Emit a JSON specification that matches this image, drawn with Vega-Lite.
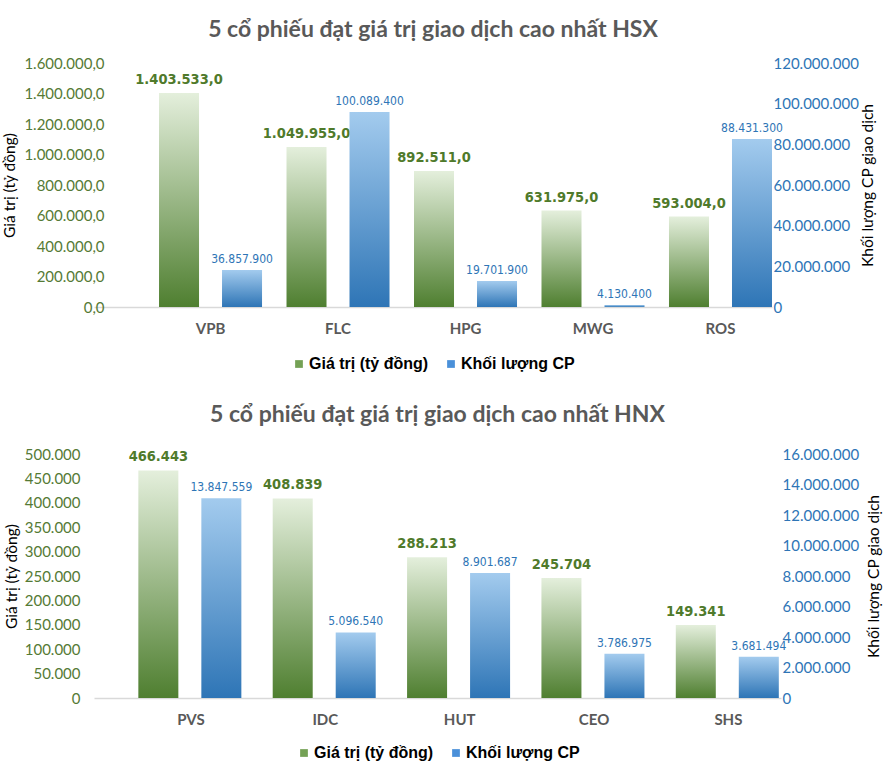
{
  "$schema": "https://vega.github.io/schema/vega-lite/v6.json",
  "padding": {"left": 2, "right": 0, "top": 19, "bottom": 0},
  "background": "white",
  "spacing": 32,
  "align": "none",
  "config": {
    "locale": {"number": {"decimal": ",", "thousands": ".", "grouping": [3], "currency": ["", ""]}},
    "view": {"stroke": null},
    "font": "Lato",
    "axis": {"grid": false, "ticks": false, "domain": false},
    "title": {"font": "Lato", "fontSize": 23, "fontWeight": "bold", "color": "#595959", "anchor": "middle", "offset": 14},
    "legend": {"layout": {"bottom": {"anchor": "middle"}}}
  },
  "resolve": {"scale": {"color": "independent"}},
  "vconcat": [
    {
      "title": "5 cổ phiếu đạt giá trị giao dịch cao nhất HSX",
      "width": 678,
      "height": 244,
      "data": {"values": [
        {"ma": "VPB", "chi_so": "gt", "gia_tri": 1403533.0},
        {"ma": "VPB", "chi_so": "kl", "gia_tri": 18200000, "nhan": "36.857.900"},
        {"ma": "FLC", "chi_so": "gt", "gia_tri": 1049955.0},
        {"ma": "FLC", "chi_so": "kl", "gia_tri": 95900000, "nhan": "100.089.400"},
        {"ma": "HPG", "chi_so": "gt", "gia_tri": 892511.0},
        {"ma": "HPG", "chi_so": "kl", "gia_tri": 12800000, "nhan": "19.701.900"},
        {"ma": "MWG", "chi_so": "gt", "gia_tri": 631975.0},
        {"ma": "MWG", "chi_so": "kl", "gia_tri": 1000000, "nhan": "4.130.400"},
        {"ma": "ROS", "chi_so": "gt", "gia_tri": 593004.0},
        {"ma": "ROS", "chi_so": "kl", "gia_tri": 82600000, "nhan": "88.431.300"}
      ]},
      "layer": [
        {
          "transform": [{"filter": "datum.chi_so === 'gt'"}],
          "encoding": {
            "x": {"field": "ma", "type": "nominal", "scale": {"domain": ["VPB", "FLC", "HPG", "MWG", "ROS"], "paddingInner": 0.192, "paddingOuter": 0.255, "align": 1},
              "axis": {"title": null, "labelAngle": 0, "labelFont": "Lato", "labelFontWeight": "bold", "labelFontSize": 15, "labelColor": "#595959", "labelPadding": 14, "domain": true, "domainColor": "#d9d9d9", "domainWidth": 1.5, "ticks": false}},
            "xOffset": {"field": "chi_so", "scale": {"domain": ["gt", "kl"], "paddingInner": 0.365, "paddingOuter": 0}},
            "y": {"field": "gia_tri", "type": "quantitative", "scale": {"domain": [0, 1600000]},
              "axis": {"orient": "left", "offset": -24, "values": [0, 200000, 400000, 600000, 800000, 1000000, 1200000, 1400000, 1600000], "format": ",.1f", "labelFont": "Lato", "labelFontSize": 15, "labelColor": "#557a35", "labelPadding": 14, "title": "Giá trị (tỷ đồng)", "titleFont": "Lato", "titleFontSize": 15.5, "titleFontWeight": "normal", "titleColor": "#000000", "titlePadding": 6}}
          },
          "layer": [
            {"mark": {"type": "bar", "fill": {"gradient": "linear", "x1": 0, "y1": 1, "x2": 0, "y2": 0, "stops": [{"offset": 0, "color": "#4f7f30"}, {"offset": 1, "color": "#e4efdc"}]}}},
            {"mark": {"type": "text", "baseline": "bottom", "dy": -6, "font": "Liberation Sans Narrow, DejaVu Sans Condensed, Roboto, sans-serif", "fontWeight": "bold", "fontSize": 14.5, "color": "#4f7a2b"},
              "encoding": {"text": {"field": "gia_tri", "type": "quantitative", "format": ",.1f"}}}
          ]
        },
        {
          "transform": [{"filter": "datum.chi_so === 'kl'"}],
          "encoding": {
            "x": {"field": "ma", "type": "nominal", "scale": {"domain": ["VPB", "FLC", "HPG", "MWG", "ROS"], "paddingInner": 0.192, "paddingOuter": 0.255, "align": 1}},
            "xOffset": {"field": "chi_so", "scale": {"domain": ["gt", "kl"], "paddingInner": 0.365, "paddingOuter": 0}},
            "y": {"field": "gia_tri", "type": "quantitative", "scale": {"domain": [0, 120000000]},
              "axis": {"orient": "right", "values": [0, 20000000, 40000000, 60000000, 80000000, 100000000, 120000000], "format": ",d", "labelFont": "Lato", "labelFontSize": 15, "labelColor": "#2e75b6", "labelPadding": 1, "title": "Khối lượng CP giao dịch", "titleAngle": 270, "titleBaseline": "top", "titleFont": "Lato", "titleFontSize": 15.5, "titleFontWeight": "normal", "titleColor": "#000000", "titlePadding": 2}}
          },
          "layer": [
            {"mark": {"type": "bar", "fill": {"gradient": "linear", "x1": 0, "y1": 1, "x2": 0, "y2": 0, "stops": [{"offset": 0, "color": "#2e75b6"}, {"offset": 1, "color": "#a3cbee"}]}}},
            {"mark": {"type": "text", "baseline": "bottom", "dy": -4, "font": "Liberation Sans Narrow, DejaVu Sans Condensed, Roboto, sans-serif", "fontSize": 12, "color": "#2e75b6"},
              "encoding": {"text": {"field": "nhan", "type": "nominal"}}}
          ]
        },
        {
          "data": {"values": [{"s": "Giá trị (tỷ đồng)"}, {"s": "Khối lượng CP"}]},
          "mark": {"type": "point", "shape": "square", "filled": true, "opacity": 0},
          "encoding": {
            "color": {"field": "s", "type": "nominal", "scale": {"domain": ["Giá trị (tỷ đồng)", "Khối lượng CP"], "range": ["#74a155", "#4a90d9"]},
              "legend": {"title": null, "orient": "bottom", "direction": "horizontal", "symbolType": "square", "symbolSize": 60, "symbolOpacity": 1, "labelFont": "Liberation Sans", "labelFontWeight": "bold", "labelFontSize": 16, "labelColor": "#000000", "columnPadding": 14, "labelOffset": 2, "offset": 20}}
          }
        }
      ],
      "resolve": {"scale": {"y": "independent"}}
    },
    {
      "title": {"text": "5 cổ phiếu đạt giá trị giao dịch cao nhất HNX", "offset": 20},
      "width": 687,
      "height": 244,
      "data": {"values": [
        {"ma": "PVS", "chi_so": "gt", "gia_tri": 466443},
        {"ma": "PVS", "chi_so": "kl", "gia_tri": 13100000, "nhan": "13.847.559"},
        {"ma": "IDC", "chi_so": "gt", "gia_tri": 408839},
        {"ma": "IDC", "chi_so": "kl", "gia_tri": 4300000, "nhan": "5.096.540"},
        {"ma": "HUT", "chi_so": "gt", "gia_tri": 288213},
        {"ma": "HUT", "chi_so": "kl", "gia_tri": 8200000, "nhan": "8.901.687"},
        {"ma": "CEO", "chi_so": "gt", "gia_tri": 245704},
        {"ma": "CEO", "chi_so": "kl", "gia_tri": 2900000, "nhan": "3.786.975"},
        {"ma": "SHS", "chi_so": "gt", "gia_tri": 149341},
        {"ma": "SHS", "chi_so": "kl", "gia_tri": 2700000, "nhan": "3.681.494"}
      ]},
      "layer": [
        {
          "transform": [{"filter": "datum.chi_so === 'gt'"}],
          "encoding": {
            "x": {"field": "ma", "type": "nominal", "scale": {"domain": ["PVS", "IDC", "HUT", "CEO", "SHS"], "paddingInner": 0.217, "paddingOuter": 0.165, "align": 1},
              "axis": {"title": null, "labelAngle": 0, "labelFont": "Lato", "labelFontWeight": "bold", "labelFontSize": 15, "labelColor": "#595959", "labelPadding": 14, "domain": true, "domainColor": "#d9d9d9", "domainWidth": 1.5, "ticks": false}},
            "xOffset": {"field": "chi_so", "scale": {"domain": ["gt", "kl"], "paddingInner": 0.364, "paddingOuter": 0}},
            "y": {"field": "gia_tri", "type": "quantitative", "scale": {"domain": [0, 500000]},
              "axis": {"orient": "left", "values": [0, 50000, 100000, 150000, 200000, 250000, 300000, 350000, 400000, 450000, 500000], "format": ",d", "labelFont": "Lato", "labelFontSize": 15, "labelColor": "#557a35", "labelPadding": 14, "title": "Giá trị (tỷ đồng)", "titleFont": "Lato", "titleFontSize": 15.5, "titleFontWeight": "normal", "titleColor": "#000000", "titlePadding": 5}}
          },
          "layer": [
            {"mark": {"type": "bar", "fill": {"gradient": "linear", "x1": 0, "y1": 1, "x2": 0, "y2": 0, "stops": [{"offset": 0, "color": "#4f7f30"}, {"offset": 1, "color": "#e4efdc"}]}}},
            {"mark": {"type": "text", "baseline": "bottom", "dy": -6, "font": "Liberation Sans Narrow, DejaVu Sans Condensed, Roboto, sans-serif", "fontWeight": "bold", "fontSize": 14.5, "color": "#4f7a2b"},
              "encoding": {"text": {"field": "gia_tri", "type": "quantitative", "format": ",d"}}}
          ]
        },
        {
          "transform": [{"filter": "datum.chi_so === 'kl'"}],
          "encoding": {
            "x": {"field": "ma", "type": "nominal", "scale": {"domain": ["PVS", "IDC", "HUT", "CEO", "SHS"], "paddingInner": 0.217, "paddingOuter": 0.165, "align": 1}},
            "xOffset": {"field": "chi_so", "scale": {"domain": ["gt", "kl"], "paddingInner": 0.364, "paddingOuter": 0}},
            "y": {"field": "gia_tri", "type": "quantitative", "scale": {"domain": [0, 16000000]},
              "axis": {"orient": "right", "values": [0, 2000000, 4000000, 6000000, 8000000, 10000000, 12000000, 14000000, 16000000], "format": ",d", "labelFont": "Lato", "labelFontSize": 15, "labelColor": "#2e75b6", "labelPadding": 1, "title": "Khối lượng CP giao dịch", "titleAngle": 270, "titleBaseline": "top", "titleFont": "Lato", "titleFontSize": 15.5, "titleFontWeight": "normal", "titleColor": "#000000", "titlePadding": 8}}
          },
          "layer": [
            {"mark": {"type": "bar", "fill": {"gradient": "linear", "x1": 0, "y1": 1, "x2": 0, "y2": 0, "stops": [{"offset": 0, "color": "#2e75b6"}, {"offset": 1, "color": "#a3cbee"}]}}},
            {"mark": {"type": "text", "baseline": "bottom", "dy": -4, "font": "Liberation Sans Narrow, DejaVu Sans Condensed, Roboto, sans-serif", "fontSize": 12, "color": "#2e75b6"},
              "encoding": {"text": {"field": "nhan", "type": "nominal"}}}
          ]
        },
        {
          "data": {"values": [{"s": "Giá trị (tỷ đồng)"}, {"s": "Khối lượng CP"}]},
          "mark": {"type": "point", "shape": "square", "filled": true, "opacity": 0},
          "encoding": {
            "color": {"field": "s", "type": "nominal", "scale": {"domain": ["Giá trị (tỷ đồng)", "Khối lượng CP"], "range": ["#74a155", "#4a90d9"]},
              "legend": {"title": null, "orient": "bottom", "direction": "horizontal", "symbolType": "square", "symbolSize": 60, "symbolOpacity": 1, "labelFont": "Liberation Sans", "labelFontWeight": "bold", "labelFontSize": 16, "labelColor": "#000000", "columnPadding": 14, "labelOffset": 2, "offset": 18}}
          }
        }
      ],
      "resolve": {"scale": {"y": "independent"}}
    }
  ]
}
